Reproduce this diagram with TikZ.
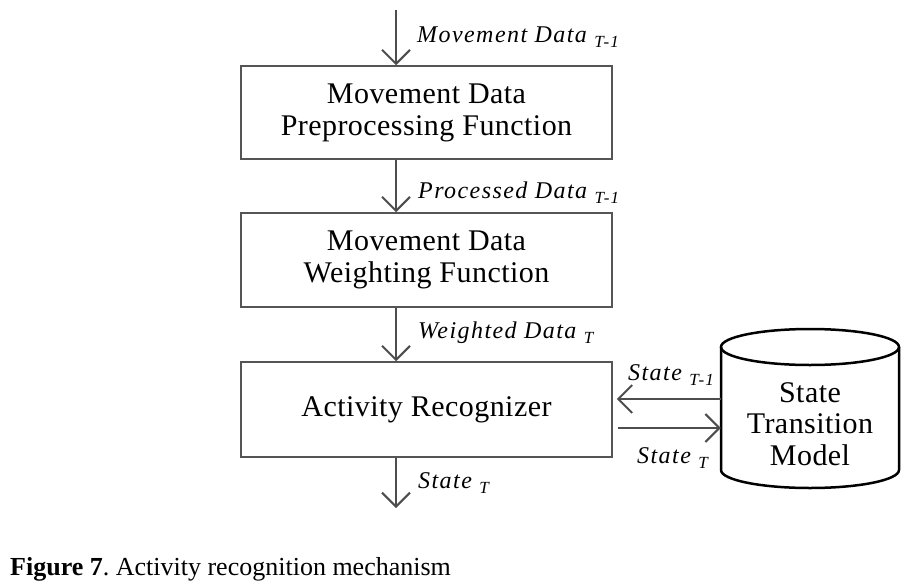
\documentclass[tikz,border=0pt]{standalone}
\usepackage{fontspec}
\setmainfont{Liberation Serif}
\newfontfamily\lblfam[LetterSpace=6]{Liberation Serif}
\newfontfamily\boxfam[LetterSpace=1.5]{Liberation Serif}
\usetikzlibrary{arrows.meta}
\definecolor{boxgray}{HTML}{555555}
\definecolor{arrgray}{HTML}{4D4D4D}
\newcommand\subs[1]{\raisebox{-5pt}{\fontsize{17}{17}\selectfont #1}}
\frenchspacing
\begin{document}
\begin{tikzpicture}[x=1pt,y=-1pt,
  box/.style={draw=boxgray, line width=1.5pt, minimum width=371pt, align=center,
    font=\boxfam\fontsize{30}{32}\selectfont, inner sep=0pt},
  flow/.style={draw=arrgray, line width=2pt, -{Straight Barb[length=14pt,width=28pt]}},
  lbl/.style={anchor=base west, inner sep=0pt, font=\lblfam\itshape\fontsize{24}{24}\selectfont},
  cylline/.style={draw=black, line width=2.5pt},
]
\useasboundingbox (0,0) rectangle (920,586);

\node[box, minimum height=93pt] (b1) at (426.5,112.5) {Movement Data\\Preprocessing Function};
\node[box, minimum height=94pt] (b2) at (426.5,260) {Movement Data\\Weighting Function};
\node[box, minimum height=95pt] (b3) at (426.5,409.5) {Activity Recognizer};

\coordinate (in) at (396,10);
\coordinate (out) at (396,508);

\draw[flow] (in) -- (in |- b1.north);
\draw[flow] (in |- b1.south) -- (in |- b2.north);
\draw[flow] (in |- b2.south) -- (in |- b3.north);
\draw[flow] (in |- b3.south) -- (out);

% cylinder
\draw[cylline] (721,347) -- (721,470) arc[start angle=180,end angle=360,x radius=89pt,y radius=18pt] -- (899,347);
\draw[cylline] (810,347) ellipse[x radius=89pt, y radius=18pt];
\node[inner sep=0pt, minimum width=178pt, align=center, font=\boxfam\fontsize{30}{31.5}\selectfont] (cyl) at (810,424) {State\\Transition\\Model};

\draw[flow, shorten >=4pt] (cyl.west |- 0,399) -- (b3.east |- 0,399);
\draw[flow, shorten <=5pt] (b3.east |- 0,428) -- (cyl.west |- 0,428);

\node[lbl] (l1) at (417,43) {Movement Data \subs{T-1}};
\node[lbl] (l2) at (418,198) {Processed Data \subs{T-1}};
\node[lbl] (l3) at (418,338) {Weighted Data \subs{T}};
\node[lbl] (l4) at (418,488) {State \subs{T}};
\node[lbl] (l5) at (628,380) {State \subs{T-1}};
\node[lbl] (l6) at (637,463) {State \subs{T}};

\node[anchor=base west, inner sep=0pt, font=\fontsize{26}{28}\selectfont] (cap) at (10,575) {\textbf{Figure 7}. Activity recognition mechanism};
\end{tikzpicture}
\end{document}
